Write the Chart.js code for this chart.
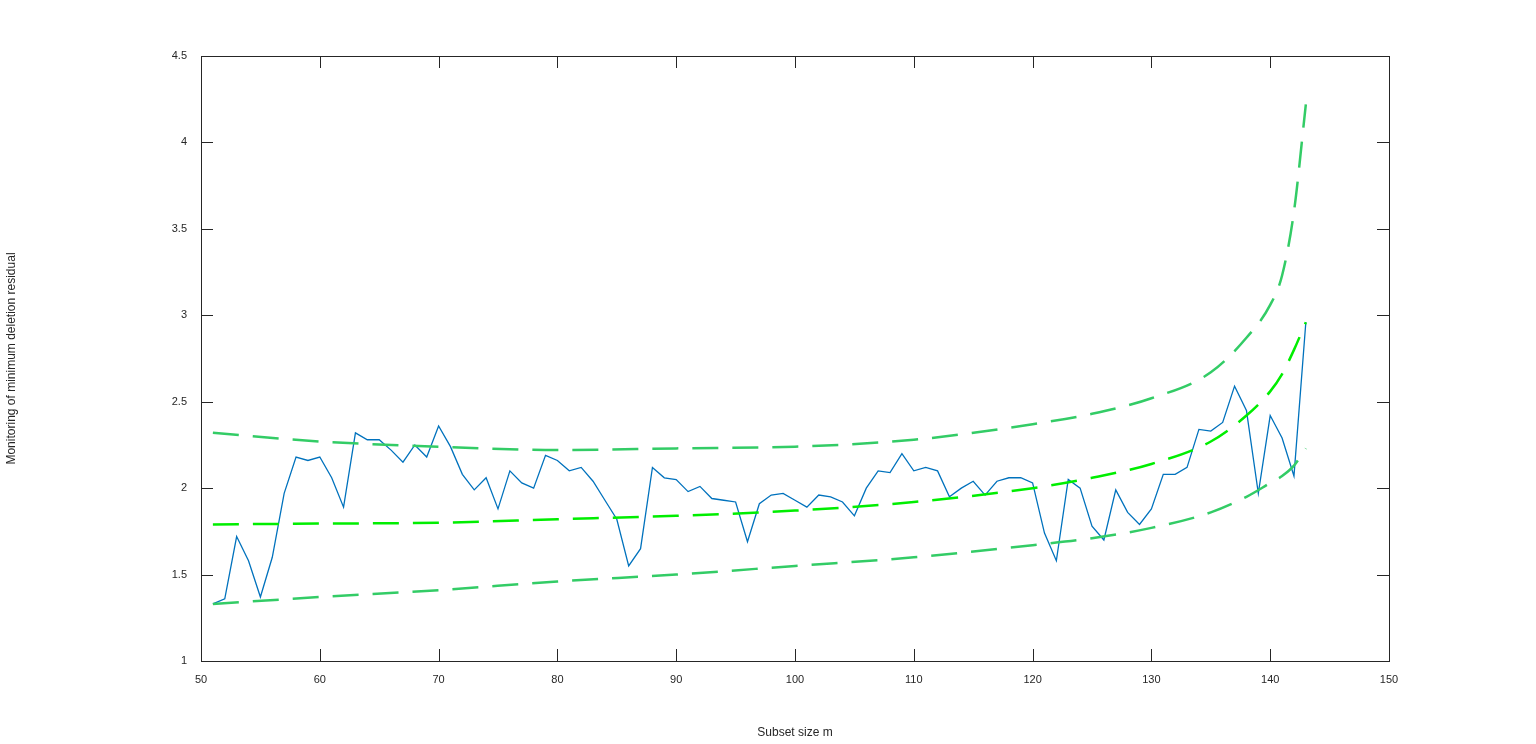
<!DOCTYPE html>
<html><head><meta charset="utf-8">
<script src="https://cdn.jsdelivr.net/npm/chart.js@4/dist/chart.umd.min.js"></script>
<style>html,body{margin:0;padding:0;background:#fff;overflow:hidden}</style>
</head><body><canvas id="c" width="1536" height="744" style="width:1536px;height:744px;display:block"></canvas>
<script>
const subsetStart = 51;
const residuals = [1.33,1.36,1.72,1.58,1.37,1.60,1.97,2.18,2.16,2.18,2.06,1.89,2.32,2.28,2.28,2.22,2.15,2.25,2.18,2.36,
2.24,2.08,1.99,2.06,1.88,2.10,2.03,2.00,2.19,2.16,2.10,2.12,2.04,1.93,1.82,1.55,1.65,2.12,2.06,2.05,
1.98,2.01,1.94,1.93,1.92,1.69,1.91,1.96,1.97,1.93,1.89,1.96,1.95,1.92,1.84,2.00,2.10,2.09,2.20,2.10,
2.12,2.10,1.95,2.00,2.04,1.96,2.04,2.06,2.06,2.03,1.74,1.58,2.05,2.00,1.78,1.70,1.99,1.86,1.79,1.88,
2.08,2.08,2.12,2.34,2.33,2.38,2.59,2.45,1.97,2.42,2.29,2.07,2.96];
const envM = [51,60,70,80,90,100,110,120,125,130,135,138,140,141,142,143];
const envUpper = [2.32,2.27,2.24,2.22,2.23,2.24,2.28,2.37,2.43,2.52,2.67,2.87,3.06,3.23,3.6,4.22];
const envMiddle = [1.79,1.795,1.80,1.82,1.84,1.87,1.92,2.00,2.06,2.14,2.27,2.42,2.56,2.66,2.8,2.96];
const envLower = [1.33,1.37,1.41,1.46,1.50,1.55,1.60,1.67,1.71,1.77,1.86,1.95,2.03,2.07,2.13,2.23];
const xTicks = [50,60,70,80,90,100,110,120,130,140,150];
const yTicks = [1,1.5,2,2.5,3,3.5,4,4.5];

const pts = (xs, ys) => xs.map((x,i)=>({x, y: ys[i]}));
const resPts = residuals.map((y,i)=>({x: subsetStart+i, y}));

const boxPlugin = {
  id:'box',
  afterDraw(ch){
    const {ctx, chartArea:a, scales:{x,y}} = ch;
    ctx.save();
    ctx.strokeStyle='#262626'; ctx.lineWidth=1;
    ctx.strokeRect(Math.round(a.left)+0.5,Math.round(a.top)+0.5,Math.round(a.right-a.left),Math.round(a.bottom-a.top));
    ctx.beginPath();
    xTicks.forEach(v=>{const p=Math.round(x.getPixelForValue(v))+0.5;
      ctx.moveTo(p,a.bottom);ctx.lineTo(p,a.bottom-12);ctx.moveTo(p,a.top);ctx.lineTo(p,a.top+12);});
    yTicks.forEach(v=>{const p=Math.round(y.getPixelForValue(v))+0.5;
      ctx.moveTo(a.left,p);ctx.lineTo(a.left+12,p);ctx.moveTo(a.right,p);ctx.lineTo(a.right-12,p);});
    ctx.stroke();
    ctx.restore();
  }
};
const font = {family:'Liberation Sans, Arial, sans-serif', size:11};
const dash = (color,w) => ({borderColor:color,borderWidth:w,borderDash:[26,14],pointRadius:0,fill:false,cubicInterpolationMode:'monotone'});
new Chart(document.getElementById('c'),{
  type:'line',
  data:{datasets:[
    {data:pts(envM,envUpper),...dash('#33cc66',2.5)},
    {data:pts(envM,envMiddle),...dash('#00ee00',2.5)},
    {data:pts(envM,envLower),...dash('#33cc66',2.5)},
    {data:resPts,borderColor:'#0072bd',borderWidth:1.3,pointRadius:0,fill:false,tension:0}
  ]},
  options:{
    responsive:false, animation:false, devicePixelRatio:1,
    layout:{padding:{top:56,right:147,left:0,bottom:0}},
    plugins:{legend:{display:false},tooltip:{enabled:false}},
    scales:{
      x:{type:'linear',min:50,max:150,
        afterBuildTicks:s=>{s.ticks=xTicks.map(v=>({value:v}));},
        afterFit:s=>{s.height=83;},
        grid:{display:false},border:{display:false},
        ticks:{font,color:'#262626',padding:4,maxRotation:0,minRotation:0,callback:v=>String(v)},
        title:{display:true,text:'Subset size m',font:{...font,size:12},color:'#262626',padding:{top:0}}},
      y:{type:'linear',min:1,max:4.5,
        afterBuildTicks:s=>{s.ticks=yTicks.map(v=>({value:v}));},
        afterFit:s=>{s.width=201;},
        grid:{display:false},border:{display:false},
        ticks:{font,color:'#262626',padding:6,callback:v=>String(v)},
        title:{display:true,text:'Monitoring of minimum deletion residual',font:{...font,size:12},color:'#262626',padding:{bottom:4}}}
    }
  },
  plugins:[boxPlugin]
});
</script>
</body></html>
